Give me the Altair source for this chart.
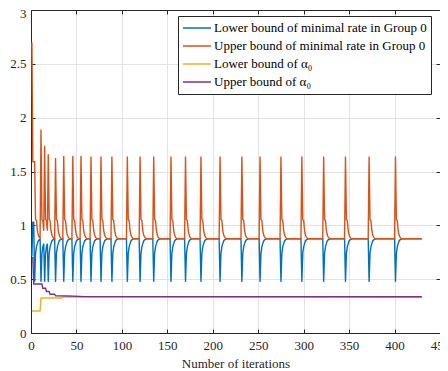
import altair as alt
import pandas as pd

# ---- values ----
first_iter, last_iter = 1, 430    # MATLAB-style iteration numbering
steady_rate = 0.875               # level both rate bounds settle to

# iterations where a new spike / dip starts
spike_iters = [11, 15, 19, 27, 36, 46, 55, 66, 77, 89, 106, 120, 135, 154,
               170, 187, 208, 232, 252, 275, 298, 322, 346, 372, 401]
upper_peaks = [1.89, 1.74, 1.66, 1.625, 1.645, 1.645, 1.645, 1.64, 1.64, 1.64,
               1.64, 1.64, 1.64, 1.64, 1.64, 1.64, 1.64, 1.64, 1.64, 1.64,
               1.64, 1.64, 1.64, 1.64, 1.64]
upper_after = [1.055, 1.045, 0.95, 0.91, 0.89, 0.88]     # decay after a spike
lower_dip = 0.475
lower_after = [0.74, 0.80, 0.83, 0.855, 0.865, 0.87]     # recovery after a dip

# first iterations (1..10)
upper_start = [2.70, 1.59, 1.59, 1.59, 1.055, 1.045, 0.95, 0.91, 0.89, 0.88]
lower_start = [0.71, 1.03, 1.03, 0.475, 0.74, 0.80, 0.83, 0.855, 0.865, 0.87]

# alpha_0 bounds: (iteration, value) breakpoints
alpha_low_pts = [(1, 0.205), (10, 0.205), (11, 0.325), (34, 0.325), (35, 0.333), (430, 0.333)]
alpha_up_pts = [(1, 0.70), (2, 0.70), (3, 0.455), (12, 0.455), (13, 0.415), (16, 0.415),
                (17, 0.385), (20, 0.385), (21, 0.36), (26, 0.36), (27, 0.346),
                (40, 0.343), (60, 0.338), (430, 0.337)]

series_names = ["Lower bound of minimal rate in Group 0",
                "Upper bound of minimal rate in Group 0",
                "Lower bound of \u03b1\u2080",
                "Upper bound of \u03b1\u2080"]
series_colors = ["#0072BD", "#D95319", "#EDB120", "#7E2F8E"]

# ---- assemble the series from the values above ----
iters = list(range(first_iter, last_iter + 1))
upper = {i: steady_rate for i in iters}
lower = {i: steady_rate for i in iters}
for j, v in enumerate(upper_start):
    upper[first_iter + j] = v
for j, v in enumerate(lower_start):
    lower[first_iter + j] = v
bounds = spike_iters[1:] + [last_iter + 1]
for k, pk, nxt in zip(spike_iters, upper_peaks, bounds):
    upper[k] = pk
    lower[k] = lower_dip
    for j, v in enumerate(upper_after):
        if k + 1 + j < nxt:
            upper[k + 1 + j] = v
    for j, v in enumerate(lower_after):
        if k + 1 + j < nxt:
            lower[k + 1 + j] = v

rows = []
for i in iters:
    rows.append({"it": i, "val": lower[i], "s": series_names[0], "o": 0})
for i in iters:
    rows.append({"it": i, "val": upper[i], "s": series_names[1], "o": 1})
for x, v in alpha_low_pts:
    rows.append({"it": x, "val": v, "s": series_names[2], "o": 2})
for x, v in alpha_up_pts:
    rows.append({"it": x, "val": v, "s": series_names[3], "o": 3})
df = pd.DataFrame(rows)

FONT = "Liberation Serif"
AX = "#262626"
GRID = "#e3e3e3"
W, H = 409, 323

xscale = alt.Scale(domain=[0, 450], nice=False, zero=False)
yscale = alt.Scale(domain=[0, 3], nice=False, zero=False)
xvals = [0, 50, 100, 150, 200, 250, 300, 350, 400, 450]
yvals = [0, 0.5, 1, 1.5, 2, 2.5, 3]

main = alt.Chart(df).mark_line(strokeWidth=1.4, clip=True).encode(
    x=alt.X("it:Q", scale=xscale,
            axis=alt.Axis(values=xvals, format="d", title="Number of iterations",
                          orient="bottom", grid=True, gridColor=GRID, gridWidth=1,
                          domainColor=AX, tickColor=AX, tickSize=alt.ExprRef("-4"),
                          labelPadding=10, labelFont=FONT, labelFontSize=13,
                          labelColor=AX, titleFont=FONT, titleFontSize=13,
                          titleFontWeight="normal", titleColor=AX, titlePadding=5,
                          labelFlush=False)),
    y=alt.Y("val:Q", scale=yscale,
            axis=alt.Axis(values=yvals, format="~g", title=None, orient="left",
                          grid=True, gridColor=GRID, gridWidth=1,
                          domainColor=AX, tickColor=AX, tickSize=alt.ExprRef("-4"),
                          labelPadding=9, labelFont=FONT, labelFontSize=13,
                          labelColor=AX, labelFlush=False,
                          labelOffset={"condition": {"test": "datum.value == 3", "value": 3.5},
                                       "value": 0})),
    color=alt.Color("s:N", scale=alt.Scale(domain=series_names, range=series_colors),
                    legend=alt.Legend(title=None, orient="none", legendX=147, legendY=6,
                                      direction="vertical", symbolType="stroke",
                                      symbolSize=784, symbolStrokeWidth=1.5,
                                      clipHeight=16,
                                      labelFont=FONT, labelFontSize=13, labelColor="#000",
                                      strokeColor=AX, fillColor="white", padding=4,
                                      rowPadding=2, labelOffset=2, labelLimit=0)),
    order=alt.Order("o:Q"),
    detail="s:N",
)

frame = alt.Chart(df).mark_line(opacity=0).encode(
    x=alt.X("it:Q", scale=xscale,
            axis=alt.Axis(values=xvals, orient="top", labels=False, title=None, grid=False,
                          domainColor=AX, tickColor=AX, tickSize=alt.ExprRef("-4"))),
    y=alt.Y("val:Q", scale=yscale,
            axis=alt.Axis(values=yvals, orient="right", labels=False, title=None, grid=False,
                          domainColor=AX, tickColor=AX, tickSize=alt.ExprRef("-4"))),
    detail="s:N",
)

chart = alt.layer(main, frame).resolve_axis(x="independent", y="independent").properties(
    width=W, height=H,
    autosize=alt.AutoSizeParams(type="none"),
    padding={"left": 23, "top": 2, "right": 0, "bottom": 36},
    background="white",
).configure_view(stroke=None)

chart.save("out.html", embed_options={"renderer": "svg", "actions": False})
